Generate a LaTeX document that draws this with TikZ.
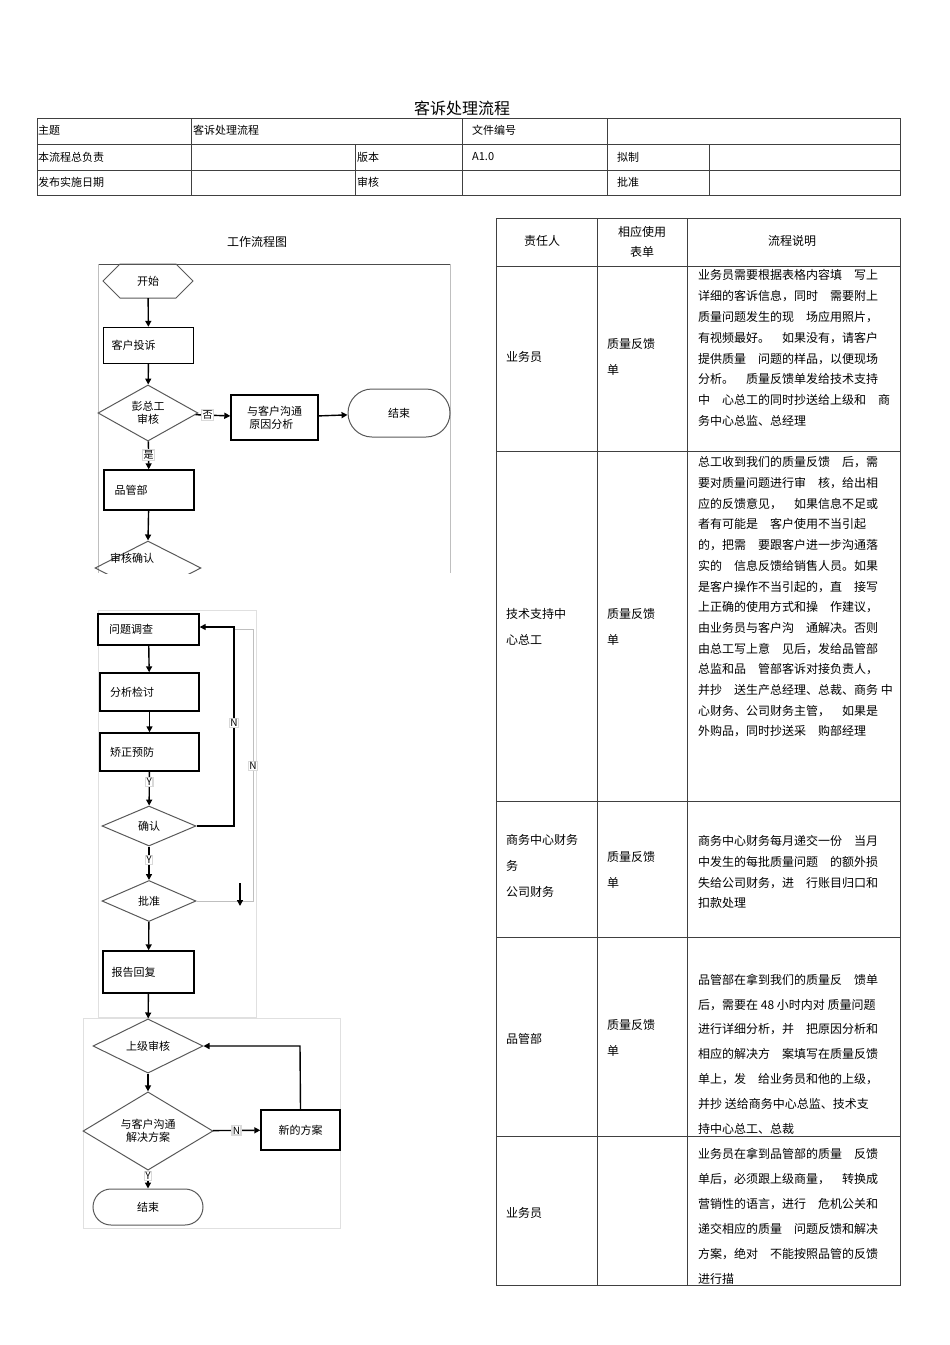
\documentclass[tikz,border=0pt]{standalone}
\usepackage{fontspec}
\setmainfont{Noto Sans CJK SC}
\usetikzlibrary{shapes.geometric,shapes.misc,arrows.meta}
\begin{document}
\begin{tikzpicture}[x=1pt,y=-1pt,
  tl/.style={draw=black!75,line width=0.7pt},
  cell/.style={anchor=west,inner sep=0,font=\fontsize{11}{13}\selectfont},
  desc/.style={anchor=west,inner sep=0,font=\fontsize{12}{14}\selectfont},
  ctr/.style={inner sep=0,font=\fontsize{12}{14}\selectfont},
  fbox/.style={draw,line width=1.4pt,minimum width=90pt,minimum height=36pt,font=\fontsize{11}{13}\selectfont,align=left},
  fdia/.style={draw=black!65,line width=1pt,diamond,inner sep=0,font=\fontsize{11}{13}\selectfont,align=center},
  fend/.style={draw=black!65,line width=1pt,rounded rectangle,inner sep=0,font=\fontsize{11}{13}\selectfont},
  fl/.style={line width=1.4pt,-{Triangle[length=6pt,width=6pt]}},
  gl/.style={line width=0.8pt,black!25},
  lab/.style={fill=white,draw=black!15,inner sep=1pt,font=\fontsize{10}{11}\selectfont}]
\useasboundingbox (0,0) rectangle (950,1345);
% title
\node (title) at (462,108) {\fontsize{16}{18}\selectfont 客诉处理流程};
% top table
\draw[tl] (37,118) rectangle (900,195) (37,144)--(900,144) (37,170)--(900,170);
\draw[tl] (191,118)--(191,195) (462,118)--(462,195) (607,118)--(607,195)
  (355,144)--(355,195) (709,144)--(709,195);
\node[cell] (t1) at (38,130) {主题};
\node[cell] (t2) at (193,130) {客诉处理流程};
\node[cell] (t3) at (472,130) {文件编号};
\node[cell] (t4) at (38,157) {本流程总负责};
\node[cell] (t5) at (357,157) {版本};
\node[cell] (t6) at (472,157) {A1.0};
\node[cell] (t7) at (617,157) {拟制};
\node[cell] (t8) at (38,182) {发布实施日期};
\node[cell] (t9) at (357,182) {审核};
\node[cell] (t10) at (617,182) {批准};
% right table
\draw[tl] (496,218) rectangle (900,1285);
\draw[tl] (597,218)--(597,1285) (687,218)--(687,1285);
\foreach \y in {266,451,801,937,1136} \draw[tl] (496,\y)--(900,\y);
\node[ctr] (h1) at (542,241) {责任人};
\node[ctr,align=center] (h2) at (642,242) {相应使用\\[6pt]表单};
\node[ctr] (h3) at (792,241) {流程说明};
% row 1
\node[desc] (r1a) at (506,357) {业务员};
\node[desc,align=left] (r1b) at (607,357) {质量反馈\\[12pt]单};
\node[desc,align=left,font=\fontsize{12}{20.8}\selectfont] (r1c) at (698,348) {业务员需要根据表格内容填\quad 写上\\详细的客诉信息，同时\quad 需要附上\\质量问题发生的现\quad 场应用照片，\\有视频最好。\quad 如果没有，请客户\\提供质量\quad 问题的样品，以便现场\\分析。\quad 质量反馈单发给技术支持\\中\quad 心总工的同时抄送给上级和\quad 商\\务中心总监、总经理};
% row 2
\node[desc,align=left] (r2a) at (506,627) {技术支持中\\[12pt]心总工};
\node[desc,align=left] (r2b) at (607,627) {质量反馈\\[12pt]单};
\node[desc,align=left,font=\fontsize{12}{20.7}\selectfont] (r2c) at (698,597) {总工收到我们的质量反馈\quad 后，需\\要对质量问题进行审\quad 核，给出相\\应的反馈意见，\quad 如果信息不足或\\者有可能是\quad 客户使用不当引起\\的，把需\quad 要跟客户进一步沟通落\\实的\quad 信息反馈给销售人员。如果\\是客户操作不当引起的，直\quad 接写\\上正确的使用方式和操\quad 作建议，\\由业务员与客户沟\quad 通解决。否则\\由总工写上意\quad 见后，发给品管部\\总监和品\quad 管部客诉对接负责人，\\并抄\quad 送生产总经理、总裁、商务\ 中\\心财务、公司财务主管，\quad 如果是\\外购品，同时抄送采\quad 购部经理};
% row 3
\node[desc,align=left] (r3a) at (506,866) {商务中心财务\\[12pt]务\\[12pt]公司财务};
\node[desc,align=left] (r3b) at (607,870) {质量反馈\\[12pt]单};
\node[desc,align=left,font=\fontsize{12}{20.8}\selectfont] (r3c) at (698,872) {商务中心财务每月递交一份\quad 当月\\中发生的每批质量问题\quad 的额外损\\失给公司财务，进\quad 行账目归口和\\扣款处理};
% row 4
\node[desc] (r4a) at (506,1039) {品管部};
\node[desc,align=left] (r4b) at (607,1038) {质量反馈\\[12pt]单};
\node[desc,align=left,font=\fontsize{12}{24.8}\selectfont] (r4c) at (698,1054) {品管部在拿到我们的质量反\quad 馈单\\后，需要在 48 小时内对 质量问题\\进行详细分析，并\quad 把原因分析和\\相应的解决方\quad 案填写在质量反馈\\单上，发\quad 给业务员和他的上级，\\并抄\ 送给商务中心总监、技术支\\持中心总工、总裁};
% row 5
\node[desc] (r5a) at (506,1213) {业务员};
\node[desc,align=left,font=\fontsize{12}{25}\selectfont] (r5c) at (698,1216) {业务员在拿到品管部的质量\quad 反馈\\单后，必须跟上级商量，\quad 转换成\\营销性的语言，进行\quad 危机公关和\\递交相应的质量\quad 问题反馈和解决\\方案，绝对\quad 不能按照品管的反馈\\进行描};
% flowchart title
\node[ctr] (ft) at (257,242) {工作流程图};
% top panel
\draw[line width=1pt,black!70] (98,264)--(450,264);
\draw[gl] (98,264)--(98,573) (450,264)--(450,573);
\node[inner sep=0,minimum width=90pt,minimum height=34pt,font=\fontsize{11}{13}\selectfont] (start) at (148,281) {开始};
\draw[black!65,line width=1pt] (103,281)--(120,264)--(176,264)--(193,281)--(176,298)--(120,298)--cycle;
\node[fbox] (comp) at (148.5,345.5) {客户投诉\hspace{30pt}};
\node[fdia,minimum width=100pt,minimum height=50pt] (d1) at (148,413) {彭总工\\审核};
\node[fbox,minimum width=87pt,minimum height=45pt,align=left] (comm) at (274.5,417.5) {与客户沟通\\\ 原因分析};
\node[fend,minimum width=102pt,minimum height=48pt] (end1) at (399,413) {结束};
\node[fbox,minimum height=40pt] (qc) at (149,490) {品管部\hspace{36pt}};
\begin{scope}
\clip (90,520) rectangle (460,573);
\node[fdia,minimum width=106pt,minimum height=54pt] (d2) at (148,568) {};
\end{scope}
\node[inner sep=0,font=\fontsize{11}{13}\selectfont] (d2t) at (132,558) {审核确认};
\draw[fl] (start)--(comp);
\draw[fl] (comp)--(d1);
\draw[fl] (d1)--(comm) node[lab,pos=0.35] (no1) {否};
\draw[fl] (d1)--(qc) node[lab,pos=0.5] (yes1) {是};
\draw[fl] (comm)--(end1);
\draw[fl] (qc)--(d2.north);
% lower panel frames
\draw[black!12,line width=0.6pt] (98,610) rectangle (256,1017) (83,1018) rectangle (340,1228);
\node[fbox,minimum width=101pt,minimum height=31pt] (inv) at (148.5,629.5) {问题调查\hspace{35pt}};
\node[fbox,minimum width=99pt,minimum height=38pt] (ana) at (149.5,692) {分析检讨\hspace{35pt}};
\node[fbox,minimum width=99pt,minimum height=38pt] (cor) at (149.5,752) {矫正预防\hspace{35pt}};
\node[fdia,minimum width=94pt,minimum height=40pt] (conf) at (149,826) {确认};
\node[fdia,minimum width=94pt,minimum height=41pt] (appr) at (149,901) {批准};
\node[fbox,minimum width=91pt,minimum height=42pt] (rep) at (148.5,972) {报告回复\hspace{30pt}};
\node[fdia,minimum width=110pt,minimum height=48pt] (sup) at (148,1046) {上级审核};
\node[fdia,minimum width=130pt,minimum height=78pt] (sol) at (148,1131) {与客户沟通\\解决方案};
\node[fbox,minimum width=79pt,minimum height=40pt] (new) at (300.5,1130) {新的方案};
\node[fend,minimum width=110pt,minimum height=36pt] (end2) at (148,1207) {结束};
\draw[fl] (inv)--(ana);
\draw[fl] (ana)--(cor);
\draw[fl] (cor)--(conf) node[lab,pos=0.3] (y1) {Y};
\draw[fl] (conf)--(appr) node[lab,pos=0.4] (y2) {Y};
\draw[fl] (appr)--(rep);
\draw[fl] (rep)--(sup);
\draw[fl] (sup)--(sol);
\draw[fl] (sol)--(end2) node[lab,pos=0.3] (y3) {Y};
\draw[fl] (sol)--(new) node[lab,pos=0.5] (n3) {N};
\draw[fl] (new.north)--(300,1046)--(sup.east);
\draw[gl] (appr.east)--(253,901)--(253,629)--(234,629);
\draw[fl] (conf.east)--(234,826)--(234,627)--(inv.east|-0,627);
\node[lab] (n1) at (234,723) {N};
\node[lab] (n2) at (253,766) {N};
\coordinate (dt) at (240,883);
\coordinate (db) at (240,906);
\draw[fl] (dt)--(db);
\end{tikzpicture}
\end{document}
